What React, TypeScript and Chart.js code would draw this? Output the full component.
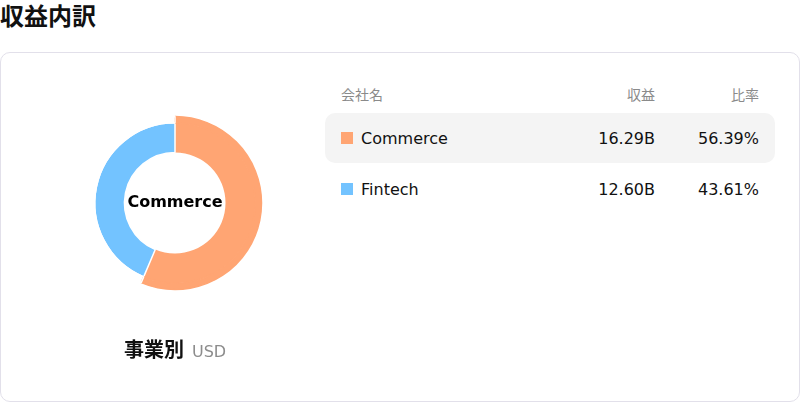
import { useEffect, useRef } from "react"
import { Chart, registerables } from "chart.js"

Chart.register(...registerables)

const segments = ["Commerce", "Fintech"]
const revenue = [16.29, 12.6]
const revenueLabels = ["16.29B", "12.60B"]
const shares = ["56.39%", "43.61%"]
const colors = ["#FFA573", "#73C3FF"]
// the leading segment is drawn with a thicker outer edge
const highlight = [true, false]

const FONT = '"DejaVu Sans", "Noto Sans CJK JP", sans-serif'

function RevenueDonut() {
  const chartRef = useRef<HTMLCanvasElement>(null)
  const chartInstance = useRef<Chart | null>(null)

  useEffect(() => {
    if (!chartRef.current) return
    if (chartInstance.current) chartInstance.current.destroy()
    const ctx = chartRef.current.getContext("2d")
    if (!ctx) return

    chartInstance.current = new Chart(ctx, {
      type: "doughnut",
      data: {
        labels: segments,
        datasets: [
          {
            // outer rim, only filled for the highlighted slice
            data: revenue,
            backgroundColor: colors.map((c, i) => (highlight[i] ? c : "rgba(0,0,0,0)")),
            borderColor: colors.map((c, i) => (highlight[i] ? c : "#ffffff")),
            borderWidth: 1.5,
            weight: 6.25,
          },
          {
            data: revenue,
            backgroundColor: colors,
            borderColor: "#ffffff",
            borderWidth: colors.map((_, i) => (highlight[i] ? 0 : 1.5)),
            weight: 29.75,
          },
        ],
      },
      options: {
        responsive: true,
        maintainAspectRatio: false,
        animation: false,
        radius: 86.5,
        cutout: "58.4%",
        events: [],
        plugins: {
          legend: { display: false },
          tooltip: { enabled: false },
        },
      },
    })

    return () => {
      if (chartInstance.current) {
        chartInstance.current.destroy()
        chartInstance.current = null
      }
    }
  }, [])

  return (
    <div style={{ position: "absolute", left: 75, top: 103, width: 200, height: 200 }}>
      <canvas ref={chartRef} />
      <div
        style={{
          position: "absolute",
          left: 0,
          top: -2,
          width: 200,
          height: 200,
          display: "flex",
          alignItems: "center",
          justifyContent: "center",
          fontSize: 16,
          fontWeight: "bold",
          color: "#000",
          pointerEvents: "none",
        }}
      >
        {segments[0]}
      </div>
    </div>
  )
}

export default function App() {
  return (
    <div style={{ position: "relative", width: 800, height: 402, fontFamily: FONT, background: "#fff", overflow: "hidden" }}>
      <style>{`body{margin:0}`}</style>
      <div style={{ position: "absolute", left: 0, top: 0, height: 34, lineHeight: "34px", fontSize: 24, fontWeight: "bold", color: "#111" }}>
        収益内訳
      </div>
      <div
        style={{
          position: "absolute",
          left: 0,
          top: 52,
          width: 798,
          height: 348,
          border: "1px solid #e2e0ea",
          borderRadius: 10,
        }}
      />
      <RevenueDonut />
      <div style={{ position: "absolute", left: 124, top: 334, height: 28, display: "flex", alignItems: "baseline", gap: 8 }}>
        <span style={{ fontSize: 20, fontWeight: "bold", color: "#111" }}>事業別</span>
        <span style={{ fontSize: 16, color: "#8c8c8c" }}>USD</span>
      </div>

      <div style={{ position: "absolute", left: 325, top: 80, width: 450, height: 30, fontSize: 14, color: "#8a8a8a" }}>
        <span style={{ position: "absolute", left: 16, top: 0, lineHeight: "30px" }}>会社名</span>
        <span style={{ position: "absolute", right: 120, top: 0, lineHeight: "30px" }}>収益</span>
        <span style={{ position: "absolute", right: 16, top: 0, lineHeight: "30px" }}>比率</span>
      </div>

      {segments.map((name, i) => (
        <div
          key={name}
          style={{
            position: "absolute",
            left: 325,
            top: 113 + i * 51,
            width: 450,
            height: 50,
            borderRadius: 10,
            background: i === 0 ? "#f4f4f4" : "transparent",
            fontSize: 16,
            color: "#111",
          }}
        >
          <span
            style={{
              position: "absolute",
              left: 16,
              top: 19,
              width: 12,
              height: 12,
              background: colors[i],
            }}
          />
          <span style={{ position: "absolute", left: 36, top: 1, lineHeight: "50px" }}>{name}</span>
          <span style={{ position: "absolute", right: 120, top: 1, lineHeight: "50px" }}>{revenueLabels[i]}</span>
          <span style={{ position: "absolute", right: 16, top: 1, lineHeight: "50px" }}>{shares[i]}</span>
        </div>
      ))}
    </div>
  )
}
